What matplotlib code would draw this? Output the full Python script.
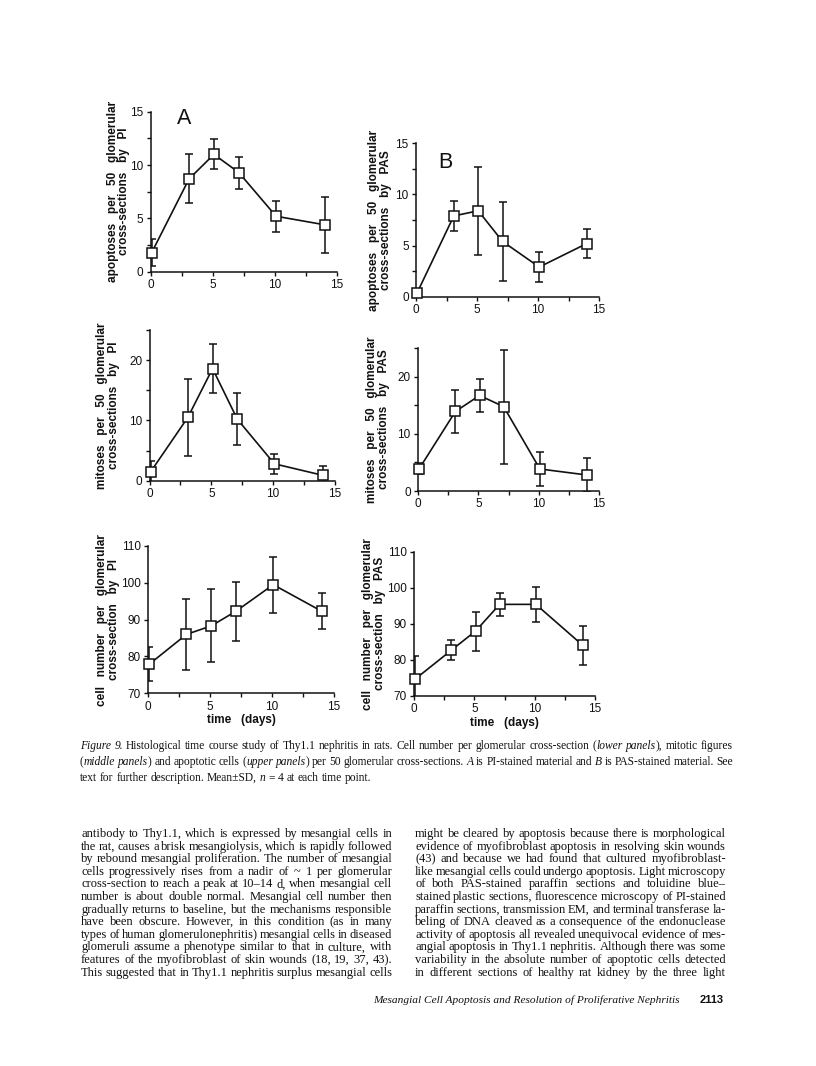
import matplotlib
matplotlib.use("Agg")
import matplotlib.pyplot as plt

W, H = 816, 1066
INK = "#111111"

# time points (days) as plotted
days = [0.1, 3.1, 5.1, 7.1, 10.1, 14.0]

# apoptoses per 50 glomerular cross-sections
apo_pi = [1.8, 8.7, 11.0, 9.3, 5.2, 4.4]
apo_pi_sd = [1.3, 2.3, 1.4, 1.5, 1.45, 2.6]
apo_pas = [0.4, 7.9, 8.4, 5.4, 2.9, 5.2]
apo_pas_sd = [0.3, 1.5, 4.3, 3.9, 1.45, 1.45]

# mitoses per 50 glomerular cross-sections
mit_pi = [1.5, 10.5, 18.6, 10.2, 2.8, 0.9]
mit_pi_sd = [1.8, 6.4, 4.1, 4.3, 1.7, 1.5]
mit_pas = [3.9, 13.9, 16.7, 14.75, 3.85, 2.8]
mit_pas_sd = [1.0, 3.7, 2.85, 9.95, 2.9, 2.9]

# cell number per glomerular cross-section
cells_pi = [77.9, 86.0, 88.3, 92.3, 99.5, 92.3]
cells_pi_sd = [4.6, 9.6, 9.9, 8.0, 7.6, 4.9]
cells_pas = [74.7, 82.7, 88.0, 95.4, 95.4, 84.0]
cells_pas_sd = [6.3, 2.8, 5.4, 3.2, 4.8, 5.4]

ylabels = {
    "apo_pi": "apoptoses   per   50   glomerular\ncross-sections   by   PI",
    "apo_pas": "apoptoses   per   50   glomerular\ncross-sections   by   PAS",
    "mit_pi": "mitoses   per   50   glomerular\ncross-sections   by   PI",
    "mit_pas": "mitoses   per   50   glomerular\ncross-sections   by   PAS",
    "cells_pi": "cell   number   per   glomerular\ncross-section   by   PI",
    "cells_pas": "cell   number   per   glomerular\ncross-section   by   PAS",
}

caption = [
    "_Figure 9._ Histological time course study of Thy1.1 nephritis in rats. Cell number per glomerular cross-section (_lower panels_), mitotic figures",
    "(_middle panels_) and apoptotic cells (_upper panels_) per 50 glomerular cross-sections. _A_ is PI-stained material and _B_ is PAS-stained material. See",
    "text for further description. Mean\u00b1SD, _n_ = 4 at each time point.",
]

left_col = [
    "antibody to Thy1.1, which is expressed by mesangial cells in",
    "the rat, causes a brisk mesangiolysis, which is rapidly followed",
    "by rebound mesangial proliferation. The number of mesangial",
    "cells progressively rises from a nadir of ~ 1 per glomerular",
    "cross-section to reach a peak at 10\u201314 d, when mesangial cell",
    "number is about double normal. Mesangial cell number then",
    "gradually returns to baseline, but the mechanisms responsible",
    "have been obscure. However, in this condition (as in many",
    "types of human glomerulonephritis) mesangial cells in diseased",
    "glomeruli assume a phenotype similar to that in culture, with",
    "features of the myofibroblast of skin wounds (18, 19, 37, 43).",
    "This suggested that in Thy1.1 nephritis surplus mesangial cells",
]

right_col = [
    "might be cleared by apoptosis because there is morphological",
    "evidence of myofibroblast apoptosis in resolving skin wounds",
    "(43) and because we had found that cultured myofibroblast-",
    "like mesangial cells could undergo apoptosis. Light microscopy",
    "of both PAS-stained paraffin sections and toluidine blue\u2013",
    "stained plastic sections, fluorescence microscopy of PI-stained",
    "paraffin sections, transmission EM, and terminal transferase la-",
    "beling of DNA cleaved as a consequence of the endonuclease",
    "activity of apoptosis all revealed unequivocal evidence of mes-",
    "angial apoptosis in Thy1.1 nephritis. Although there was some",
    "variability in the absolute number of apoptotic cells detected",
    "in different sections of healthy rat kidney by the three light",
]

footer = "Mesangial Cell Apoptosis and Resolution of Proliferative Nephritis"
page_no = "2113"

fig = plt.figure(figsize=(W / 100, H / 100), dpi=100)
fig.patch.set_facecolor("white")


def rect(l, r, t, b):
    return [l / W, 1 - b / H, (r - l) / W, (b - t) / H]


def panel(box, y, sd, ylim, major, minor, key, lab_dx, xlabel=False):
    ax = fig.add_axes(rect(*box))
    ax.errorbar(days, y, yerr=sd, fmt="none", ecolor=INK, elinewidth=1.1,
                capsize=2.6, capthick=1.1, zorder=2)
    ax.plot(days, y, "-", color=INK, lw=1.2, zorder=3)
    ax.plot(days, y, "s", mfc="white", mec=INK, ms=6.8, mew=1.1,
            clip_on=False, zorder=5)
    ax.set_xlim(0, 15)
    ax.set_ylim(*ylim)
    ax.set_xticks([0, 5, 10, 15])
    ax.set_xticks([2.5, 7.5, 12.5], minor=True)
    ax.set_yticks(major)
    ax.set_yticks(minor, minor=True)
    for s in ["top", "right"]:
        ax.spines[s].set_visible(False)
    for s in ["left", "bottom"]:
        ax.spines[s].set_linewidth(1.1)
        ax.spines[s].set_color(INK)
    ax.tick_params(which="both", direction="out", length=3.2, width=1.0,
                   colors=INK, labelsize=8.5, pad=2)
    for t in ax.get_xticklabels() + ax.get_yticklabels():
        t.set_family("Liberation Sans")
    ax.patch.set_alpha(0)
    l, r, t, b = box
    fig.text((l + lab_dx) / W, 1 - (t + b) / 2 / H, ylabels[key], rotation=90,
             ha="center", va="center", ma="center", fontsize=8.5,
             fontweight="bold", family="Liberation Sans", color=INK,
             linespacing=1.0)
    if xlabel:
        ax.set_xlabel("time   (days)", fontsize=8.5, fontweight="bold",
                      family="Liberation Sans", color=INK, labelpad=1)
    return ax


panel((150.5, 337, 111.7, 271.7), apo_pi, apo_pi_sd, (0, 15), [0, 5, 10, 15],
      [2.5, 7.5, 12.5], "apo_pi", -32)
panel((416, 599, 143.3, 296.7), apo_pas, apo_pas_sd, (0, 15), [0, 5, 10, 15],
      [2.5, 7.5, 12.5], "apo_pas", -36)
panel((149.5, 335, 330, 480.7), mit_pi, mit_pi_sd, (0, 25), [0, 10, 20],
      [5, 15, 25], "mit_pi", -41)
panel((418, 599, 348, 491), mit_pas, mit_pas_sd, (0, 25), [0, 10, 20],
      [5, 15, 25], "mit_pas", -40)
panel((148, 334, 546, 693.3), cells_pi, cells_pi_sd, (70, 110),
      [70, 80, 90, 100, 110], [], "cells_pi", -40, xlabel=True)
panel((414, 595, 551.7, 696), cells_pas, cells_pas_sd, (70, 110),
      [70, 80, 90, 100, 110], [], "cells_pas", -40, xlabel=True)

fig.text(184.5 / W, 1 - 119 / H, "A", fontsize=15.5, family="Liberation Sans",
         ha="center", va="center", color=INK)
fig.text(445 / W, 1 - 162.5 / H, "B", fontsize=15.5, family="Liberation Sans",
         ha="center", va="center", color=INK)

renderer = fig.canvas.get_renderer()


def parse_words(line):
    words = []
    ital = False
    for w in line.split(" "):
        runs = []
        for i, p in enumerate(w.split("_")):
            if i > 0:
                ital = not ital
            if p:
                runs.append((p, ital))
        words.append(runs)
    return words


def put_line(line, x0, y, width, size, justify=True):
    items, widths = [], []
    for runs in parse_words(line):
        ts, wsum = [], 0.0
        for txt, it in runs:
            t = fig.text(0, 0, txt, fontsize=size, family="Liberation Serif",
                         style="italic" if it else "normal", va="baseline",
                         color=INK)
            bw = t.get_window_extent(renderer).width
            ts.append((t, bw))
            wsum += bw
        items.append(ts)
        widths.append(wsum)
    space = size * 0.25 * 100 / 72
    gap = space
    if justify and len(items) > 1:
        gap = (width - sum(widths)) / (len(items) - 1)
    x = x0
    for ts, w in zip(items, widths):
        xx = x
        for t, tw in ts:
            t.set_position((xx / W, 1 - y / H))
            xx += tw
        x += w + gap


for i, line in enumerate(caption):
    put_line(line, 80, 749 + i * 16, 653, 8.3, justify=i < 2)

for i, line in enumerate(left_col):
    put_line(line, 81, 837 + i * 12.6, 311, 9.0)
for i, line in enumerate(right_col):
    put_line(line, 415, 837 + i * 12.6, 311, 9.0)

fig.text(680 / W, 1 - 1003 / H, footer, fontsize=8.2, family="Liberation Serif",
         style="italic", ha="right", va="baseline", color=INK)
fig.text(724 / W, 1 - 1003 / H, page_no, fontsize=8.0, family="Liberation Sans",
         fontweight="bold", ha="right", va="baseline", color=INK)

fig.savefig("out.png", dpi=100, facecolor="white")
